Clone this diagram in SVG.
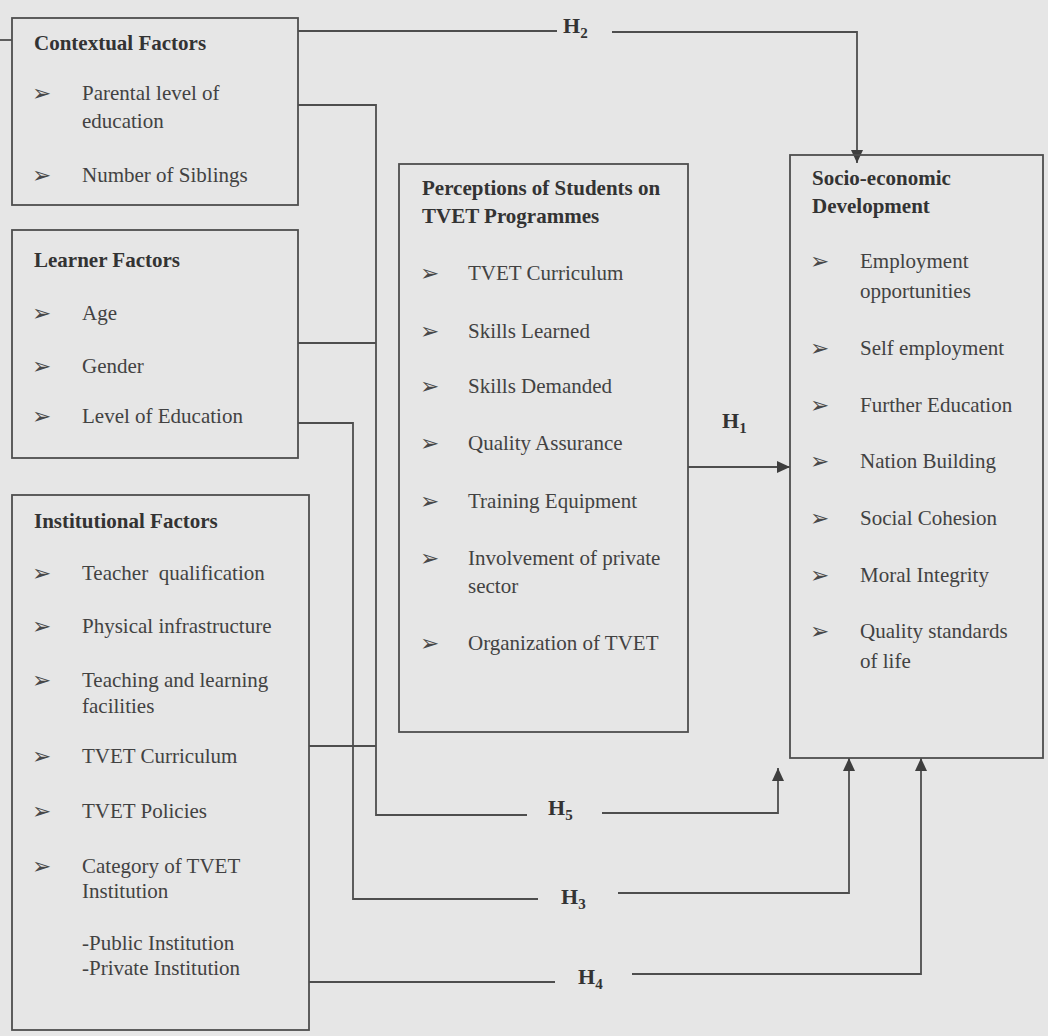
<svg xmlns="http://www.w3.org/2000/svg" width="1048" height="1036" viewBox="0 0 1048 1036">
<style>
.box{fill:none;stroke:#4e4e4e;stroke-width:1.8}
.t{font-family:"Liberation Serif","Times New Roman",serif;font-size:21px;font-weight:bold;fill:#333333}
.i{font-family:"Liberation Serif","Times New Roman",serif;font-size:21px;fill:#424242}
.b{font-family:"DejaVu Sans",sans-serif;font-size:23px;fill:#484848}
.h{font-family:"Liberation Serif","Times New Roman",serif;font-size:22px;font-weight:bold;fill:#333333}
.s{font-size:15px}
.ln{fill:none;stroke:#4e4e4e;stroke-width:1.8}
.arr{marker-end:url(#ah)}
</style>
<defs>
<marker id="ah" markerUnits="userSpaceOnUse" markerWidth="14" markerHeight="12" refX="13" refY="6" orient="auto">
<path d="M0,0 L13,6 L0,12 Z" fill="#3e3e3e"/>
</marker>
</defs>
<rect x="0" y="0" width="1048" height="1036" fill="#e6e6e6"/>
<g id="connectors">
<path class="ln" d="M0,40 H12"/>
<path class="ln" d="M298,31 H557"/>
<path class="ln arr" d="M612,32 H857 V163"/>
<path class="ln arr" d="M688,467 H790"/>
<path class="ln" d="M298,105 H376 V815 H527"/>
<path class="ln" d="M298,343 H376"/>
<path class="ln" d="M309,746 H376"/>
<path class="ln arr" d="M602,813 H778 V768"/>
<path class="ln" d="M298,423 H353 V899 H538"/>
<path class="ln arr" d="M618,893 H849 V758"/>
<path class="ln" d="M309,982 H555"/>
<path class="ln arr" d="M632,974 H921 V758"/>
<text class="h" x="563" y="33">H<tspan class="s" dy="5">2</tspan></text>
<text class="h" x="722" y="428">H<tspan class="s" dy="5">1</tspan></text>
<text class="h" x="548" y="815">H<tspan class="s" dy="5">5</tspan></text>
<text class="h" x="561" y="904">H<tspan class="s" dy="5">3</tspan></text>
<text class="h" x="578" y="984">H<tspan class="s" dy="5">4</tspan></text>
</g>
<g id="contextual-factors">
<rect class="box" x="12" y="18" width="286" height="187"/>
<text class="t" x="34" y="50">Contextual Factors</text>
<text class="b" x="32" y="101">➢</text><text class="i" x="82" y="100">Parental level of</text>
<text class="i" x="82" y="128">education</text>
<text class="b" x="32" y="183">➢</text><text class="i" x="82" y="182">Number of Siblings</text>
</g>
<g id="learner-factors">
<rect class="box" x="12" y="230" width="286" height="228"/>
<text class="t" x="34" y="267">Learner Factors</text>
<text class="b" x="32" y="321">➢</text><text class="i" x="82" y="320">Age</text>
<text class="b" x="32" y="374">➢</text><text class="i" x="82" y="373">Gender</text>
<text class="b" x="32" y="424">➢</text><text class="i" x="82" y="423">Level of Education</text>
</g>
<g id="institutional-factors">
<rect class="box" x="12" y="495" width="297" height="535"/>
<text class="t" x="34" y="528">Institutional Factors</text>
<text class="b" x="32" y="581">➢</text><text class="i" x="82" y="580" xml:space="preserve">Teacher  qualification</text>
<text class="b" x="32" y="634">➢</text><text class="i" x="82" y="633">Physical infrastructure</text>
<text class="b" x="32" y="688">➢</text><text class="i" x="82" y="687">Teaching and learning</text>
<text class="i" x="82" y="713">facilities</text>
<text class="b" x="32" y="764">➢</text><text class="i" x="82" y="763">TVET Curriculum</text>
<text class="b" x="32" y="819">➢</text><text class="i" x="82" y="818">TVET Policies</text>
<text class="b" x="32" y="874">➢</text><text class="i" x="82" y="873">Category of TVET</text>
<text class="i" x="82" y="898">Institution</text>
<text class="i" x="82" y="950">-Public Institution</text>
<text class="i" x="82" y="975">-Private Institution</text>
</g>
<g id="perceptions">
<rect class="box" x="399" y="164" width="289" height="568"/>
<text class="t" x="422" y="195">Perceptions of Students on</text>
<text class="t" x="422" y="223">TVET Programmes</text>
<text class="b" x="420" y="281">➢</text><text class="i" x="468" y="280">TVET Curriculum</text>
<text class="b" x="420" y="339">➢</text><text class="i" x="468" y="338">Skills Learned</text>
<text class="b" x="420" y="394">➢</text><text class="i" x="468" y="393">Skills Demanded</text>
<text class="b" x="420" y="451">➢</text><text class="i" x="468" y="450">Quality Assurance</text>
<text class="b" x="420" y="509">➢</text><text class="i" x="468" y="508">Training Equipment</text>
<text class="b" x="420" y="566">➢</text><text class="i" x="468" y="565">Involvement of private</text>
<text class="i" x="468" y="593">sector</text>
<text class="b" x="420" y="651">➢</text><text class="i" x="468" y="650">Organization of TVET</text>
</g>
<g id="socio-economic-development">
<rect class="box" x="790" y="155" width="253" height="603"/>
<text class="t" x="812" y="185">Socio-economic</text>
<text class="t" x="812" y="213">Development</text>
<text class="b" x="810" y="269">➢</text><text class="i" x="860" y="268">Employment</text>
<text class="i" x="860" y="298">opportunities</text>
<text class="b" x="810" y="356">➢</text><text class="i" x="860" y="355">Self employment</text>
<text class="b" x="810" y="413">➢</text><text class="i" x="860" y="412">Further Education</text>
<text class="b" x="810" y="469">➢</text><text class="i" x="860" y="468">Nation Building</text>
<text class="b" x="810" y="526">➢</text><text class="i" x="860" y="525">Social Cohesion</text>
<text class="b" x="810" y="583">➢</text><text class="i" x="860" y="582">Moral Integrity</text>
<text class="b" x="810" y="639">➢</text><text class="i" x="860" y="638">Quality standards</text>
<text class="i" x="860" y="668">of life</text>
</g>
</svg>
